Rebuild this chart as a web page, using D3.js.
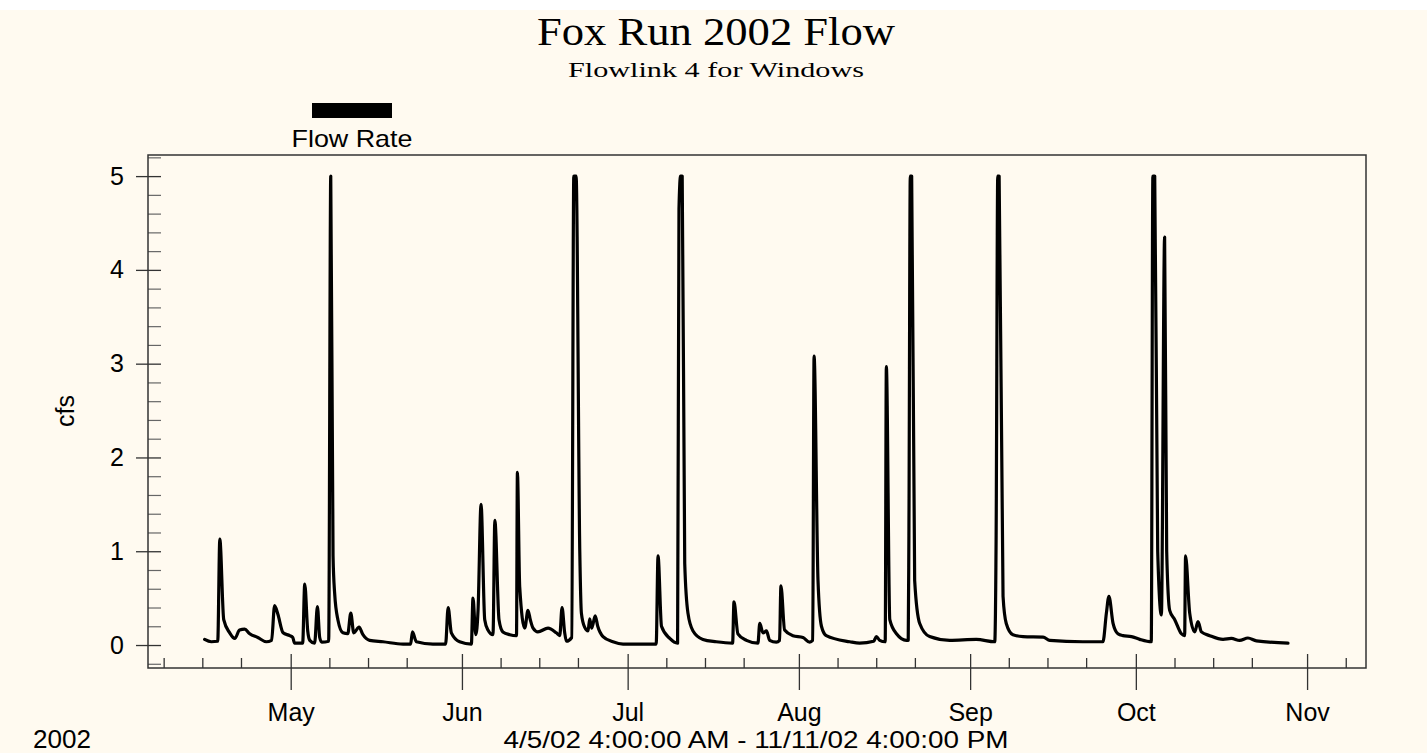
<!DOCTYPE html>
<html lang="en">
<head>
  <meta charset="UTF-8">
  <title>Fox Run 2002 Flow</title>
  <script src="https://cdn.jsdelivr.net/npm/d3@7"></script>
  <style>
    * { margin: 0; padding: 0; }
    body { background-color: #fff; }
    svg { display: block; }
    .sans { font-family: "Liberation Sans", Arial, sans-serif; fill: #000; }
    .serif { font-family: "Liberation Serif", "Times New Roman", serif; fill: #000; }
  </style>
</head>
<body>
  <svg id="chart" width="1427" height="753"></svg>

  <script>
    // flow record (cfs)
    var flowTimes = [
      "2002-04-15 10:00", "2002-04-16 15:00", "2002-04-17 19:00", "2002-04-18 04:00", "2002-04-18 21:00",
      "2002-04-19 23:00", "2002-04-20 21:00", "2002-04-21 18:00", "2002-04-22 16:00", "2002-04-23 14:00",
      "2002-04-25 01:00", "2002-04-26 14:00", "2002-04-27 13:00", "2002-04-28 02:00", "2002-04-28 16:00",
      "2002-04-29 15:00", "2002-04-30 20:00", "2002-05-01 09:00", "2002-05-01 17:00", "2002-05-03 04:00",
      "2002-05-03 13:00", "2002-05-04 02:00", "2002-05-04 11:00", "2002-05-05 08:00", "2002-05-05 20:00",
      "2002-05-06 06:00", "2002-05-06 15:00", "2002-05-07 21:00", "2002-05-08 06:00", "2002-05-08 16:00",
      "2002-05-08 23:00", "2002-05-09 13:00", "2002-05-10 11:00", "2002-05-11 08:00", "2002-05-11 21:00",
      "2002-05-12 10:00", "2002-05-13 09:00", "2002-05-14 02:00", "2002-05-15 07:00", "2002-05-17 17:00",
      "2002-05-21 08:00", "2002-05-22 17:00", "2002-05-23 01:00", "2002-05-23 18:00", "2002-05-26 18:00",
      "2002-05-29 01:00", "2002-05-29 12:00", "2002-05-30 02:00", "2002-05-31 14:00", "2002-06-02 17:00",
      "2002-06-03 00:00", "2002-06-03 12:00", "2002-06-03 22:00", "2002-06-04 11:00", "2002-06-05 03:00",
      "2002-06-05 17:00", "2002-06-06 15:00", "2002-06-06 23:00", "2002-06-07 17:00", "2002-06-08 10:00",
      "2002-06-09 16:00", "2002-06-10 21:00", "2002-06-11 01:00", "2002-06-11 11:00", "2002-06-12 09:00",
      "2002-06-12 23:00", "2002-06-13 09:00", "2002-06-13 21:00", "2002-06-14 18:00", "2002-06-16 14:00",
      "2002-06-18 02:00", "2002-06-18 17:00", "2002-06-19 03:00", "2002-06-19 14:00", "2002-06-19 22:00",
      "2002-06-20 21:00", "2002-06-21 06:00", "2002-06-21 16:00", "2002-06-22 08:00", "2002-06-22 15:00",
      "2002-06-23 05:00", "2002-06-23 20:00", "2002-06-24 03:00", "2002-06-24 12:00", "2002-06-25 03:00",
      "2002-06-25 14:00", "2002-06-26 13:00", "2002-06-28 08:00", "2002-06-30 04:00", "2002-07-06 04:00",
      "2002-07-06 12:00", "2002-07-07 03:00", "2002-07-08 15:00", "2002-07-10 01:00", "2002-07-10 07:00",
      "2002-07-10 14:00", "2002-07-10 21:00", "2002-07-11 08:00", "2002-07-11 22:00", "2002-07-12 20:00",
      "2002-07-14 15:00", "2002-07-17 01:00", "2002-07-20 00:00", "2002-07-20 06:00", "2002-07-20 23:00",
      "2002-07-22 12:00", "2002-07-24 14:00", "2002-07-24 22:00", "2002-07-25 12:00", "2002-07-26 03:00",
      "2002-07-26 17:00", "2002-07-27 22:00", "2002-07-28 12:00", "2002-07-28 18:00", "2002-07-29 10:00",
      "2002-07-30 22:00", "2002-08-01 18:00", "2002-08-02 23:00", "2002-08-03 12:00", "2002-08-03 18:00",
      "2002-08-04 11:00", "2002-08-05 02:00", "2002-08-05 23:00", "2002-08-10 05:00", "2002-08-12 00:00",
      "2002-08-14 13:00", "2002-08-15 01:00", "2002-08-15 15:00", "2002-08-16 15:00", "2002-08-16 20:00",
      "2002-08-17 11:00", "2002-08-18 16:00", "2002-08-20 11:00", "2002-08-20 19:00", "2002-08-20 22:00",
      "2002-08-21 04:00", "2002-08-21 10:00", "2002-08-21 23:00", "2002-08-22 21:00", "2002-08-24 16:00",
      "2002-08-28 07:00", "2002-09-02 03:00", "2002-09-05 11:00", "2002-09-05 17:00", "2002-09-06 00:00",
      "2002-09-06 06:00", "2002-09-06 23:00", "2002-09-07 13:00", "2002-09-08 18:00", "2002-09-10 14:00",
      "2002-09-14 05:00", "2002-09-15 10:00", "2002-09-21 10:00", "2002-09-25 01:00", "2002-09-25 16:00",
      "2002-09-26 03:00", "2002-09-26 21:00", "2002-09-27 18:00", "2002-09-28 16:00", "2002-09-30 05:00",
      "2002-10-01 17:00", "2002-10-03 19:00", "2002-10-04 02:00", "2002-10-04 10:00", "2002-10-04 23:00",
      "2002-10-05 15:00", "2002-10-06 05:00", "2002-10-06 14:00", "2002-10-07 03:00", "2002-10-08 01:00",
      "2002-10-09 06:00", "2002-10-09 20:00", "2002-10-10 00:00", "2002-10-10 18:00", "2002-10-11 16:00",
      "2002-10-12 06:00", "2002-10-12 21:00", "2002-10-14 09:00", "2002-10-16 19:00", "2002-10-18 07:00",
      "2002-10-19 19:00", "2002-10-21 07:00", "2002-10-22 20:00", "2002-10-28 13:00"
    ];
    var flowValues = [
      0.06, 0.035, 0.04, 1.13, 0.27,
      0.13, 0.07, 0.16, 0.17, 0.12,
      0.08, 0.035, 0.05, 0.42, 0.33,
      0.13, 0.10, 0.08, 0.02, 0.02,
      0.65, 0.15, 0.05, 0.02, 0.41,
      0.08, 0.03, 0.04, 5.0, 0.95,
      0.55, 0.27, 0.13, 0.12, 0.34,
      0.13, 0.19, 0.11, 0.05, 0.035,
      0.01, 0.01, 0.14, 0.035, 0.01,
      0.01, 0.40, 0.13, 0.035, 0.01,
      0.50, 0.11, 0.37, 1.50, 0.27,
      0.16, 0.11, 1.33, 0.27, 0.14,
      0.11, 0.10, 1.84, 0.62, 0.18,
      0.37, 0.27, 0.18, 0.14, 0.18,
      0.13, 0.10, 0.40, 0.14, 0.04,
      0.08, 5.0, 5.0, 1.0, 0.34,
      0.19, 0.15, 0.28, 0.18, 0.31,
      0.20, 0.09, 0.035, 0.01, 0.01,
      0.95, 0.20, 0.07, 0.02, 4.65,
      5.0, 5.0, 0.87, 0.34, 0.15,
      0.06, 0.035, 0.02, 0.46, 0.12,
      0.05, 0.02, 0.23, 0.13, 0.15,
      0.05, 0.03, 0.05, 0.63, 0.16,
      0.10, 0.08, 0.03, 0.05, 3.08,
      0.69, 0.20, 0.10, 0.035, 0.02,
      0.04, 0.09, 0.05, 0.035, 2.97,
      0.27, 0.12, 0.05, 0.05, 1.17,
      5.0, 5.0, 0.69, 0.23, 0.09,
      0.05, 0.06, 0.035, 1.17, 5.0,
      5.0, 0.52, 0.23, 0.11, 0.09,
      0.085, 0.05, 0.035, 0.035, 0.34,
      0.52, 0.23, 0.12, 0.10, 0.09,
      0.06, 0.035, 5.0, 5.0, 1.0,
      0.32, 4.35, 1.0, 0.37, 0.27,
      0.12, 0.10, 0.95, 0.34, 0.14,
      0.25, 0.14, 0.10, 0.06, 0.07,
      0.05, 0.075, 0.045, 0.02
    ];

    var yMajorTicks = [0, 1, 2, 3, 4, 5];
    var yMinorTicks = [-0.2, 0.2, 0.4, 0.6, 0.8, 1.2, 1.4, 1.6, 1.8, 2.2, 2.4, 2.6, 2.8,
                       3.2, 3.4, 3.6, 3.8, 4.2, 4.4, 4.6, 4.8, 5.2];
    var monthTicks = ["2002-05-01", "2002-06-01", "2002-07-01", "2002-08-01", "2002-09-01", "2002-10-01", "2002-11-01"];
    var monthLabels = ["May", "Jun", "Jul", "Aug", "Sep", "Oct", "Nov"];
    var minorTickDays = [8, 15, 22];
    var timeRange = ["2002-04-05 04:00", "2002-11-11 16:00"];

    var parseTime = d3.timeParse("%Y-%m-%d %H:%M"),
      parseDay = d3.timeParse("%Y-%m-%d");

    var data = flowTimes.map(function(t, i) {
      return { date: parseTime(t), value: flowValues[i] };
    });

    var plot = { left: 148, right: 1366, top: 155, bottom: 668 };

    var x = d3.scaleTime()
      .domain(timeRange.map(parseTime))
      .range([plot.left, plot.right]);
    var y = d3.scaleLinear()
      .domain([-0.245, 5.225])
      .range([plot.bottom, plot.top]);

    var svg = d3.select("#chart");

    // cream page
    svg.append("rect")
      .attr("x", 0).attr("y", 10)
      .attr("width", 1427).attr("height", 743)
      .attr("fill", "#fffaf0");

    // titles
    svg.append("text").attr("class", "serif")
      .attr("x", 716).attr("y", 45)
      .attr("text-anchor", "middle")
      .attr("font-size", 40)
      .attr("textLength", 358).attr("lengthAdjust", "spacingAndGlyphs")
      .text("Fox Run 2002 Flow");
    svg.append("text").attr("class", "serif")
      .attr("x", 716).attr("y", 77)
      .attr("text-anchor", "middle")
      .attr("font-size", 22)
      .attr("textLength", 296).attr("lengthAdjust", "spacingAndGlyphs")
      .text("Flowlink 4 for Windows");

    // legend
    svg.append("rect")
      .attr("x", 312).attr("y", 103)
      .attr("width", 80).attr("height", 15)
      .attr("fill", "#000");
    svg.append("text").attr("class", "sans")
      .attr("x", 352).attr("y", 147)
      .attr("text-anchor", "middle")
      .attr("font-size", 24)
      .attr("textLength", 121).attr("lengthAdjust", "spacingAndGlyphs")
      .text("Flow Rate");

    // y axis: minor ticks inside, major ticks across the frame
    svg.append("g")
      .attr("transform", "translate(" + plot.left + ",0)")
      .call(d3.axisRight(y).tickValues(yMinorTicks).tickSize(13).tickFormat(""))
      .call(function(g) {
        g.select(".domain").remove();
        g.selectAll(".tick line").attr("stroke", "#666").attr("stroke-width", 1.2);
      });
    svg.append("g")
      .attr("transform", "translate(" + plot.left + ",0)")
      .call(d3.axisLeft(y).tickValues(yMajorTicks).tickSize(12).tickPadding(12).tickFormat(d3.format("d")))
      .call(function(g) {
        g.select(".domain").remove();
        g.selectAll(".tick line").attr("x2", 13).attr("x1", -12)
          .attr("stroke", "#333").attr("stroke-width", 1.3);
        g.selectAll(".tick text").attr("class", "sans")
          .attr("font-size", 25).attr("fill", "#000");
      });

    // x axis
    var minorDates = [];
    d3.timeMonth.range(d3.timeMonth.floor(x.domain()[0]), x.domain()[1]).forEach(function(m) {
      minorTickDays.forEach(function(day) {
        var d = new Date(m.getFullYear(), m.getMonth(), day);
        if (d >= x.domain()[0] && d <= x.domain()[1]) minorDates.push(d);
      });
    });
    svg.append("g")
      .attr("transform", "translate(0," + plot.bottom + ")")
      .call(d3.axisBottom(x).tickValues(minorDates).tickSize(-10).tickFormat(""))
      .call(function(g) {
        g.select(".domain").remove();
        g.selectAll(".tick line").attr("stroke", "#333").attr("stroke-width", 1.3);
      });
    svg.append("g")
      .attr("transform", "translate(0," + plot.bottom + ")")
      .call(d3.axisBottom(x).tickValues(monthTicks.map(parseDay)).tickSize(22)
        .tickFormat(function(d, i) { return monthLabels[i]; }))
      .call(function(g) {
        g.select(".domain").remove();
        g.selectAll(".tick line").attr("y1", -14).attr("y2", 22)
          .attr("stroke", "#333").attr("stroke-width", 1.3);
        g.selectAll(".tick text").attr("class", "sans")
          .attr("y", 53).attr("dy", 0)
          .attr("font-size", 25).attr("fill", "#000");
      });

    // frame
    svg.append("rect")
      .attr("x", plot.left).attr("y", plot.top)
      .attr("width", plot.right - plot.left).attr("height", plot.bottom - plot.top)
      .attr("fill", "none")
      .attr("stroke", "#333").attr("stroke-width", 1.5);

    // flow line (monotone keeps the spikes from overshooting)
    var line = d3.line()
      .curve(d3.curveMonotoneX)
      .x(function(d) { return x(d.date); })
      .y(function(d) { return y(d.value); });
    svg.append("path")
      .datum(data)
      .attr("d", line)
      .attr("fill", "none")
      .attr("stroke", "#000")
      .attr("stroke-width", 3.2)
      .attr("stroke-linejoin", "round")
      .attr("stroke-linecap", "round");

    // axis captions
    svg.append("text").attr("class", "sans")
      .attr("transform", "translate(74,411) rotate(-90)")
      .attr("text-anchor", "middle")
      .attr("font-size", 25)
      .text("cfs");
    svg.append("text").attr("class", "sans")
      .attr("x", 33).attr("y", 748)
      .attr("font-size", 25)
      .attr("textLength", 58).attr("lengthAdjust", "spacingAndGlyphs")
      .text("2002");
    svg.append("text").attr("class", "sans")
      .attr("x", 756).attr("y", 748)
      .attr("text-anchor", "middle")
      .attr("font-size", 24)
      .attr("textLength", 505).attr("lengthAdjust", "spacingAndGlyphs")
      .text("4/5/02 4:00:00 AM - 11/11/02 4:00:00 PM");
  </script>
</body>
</html>
